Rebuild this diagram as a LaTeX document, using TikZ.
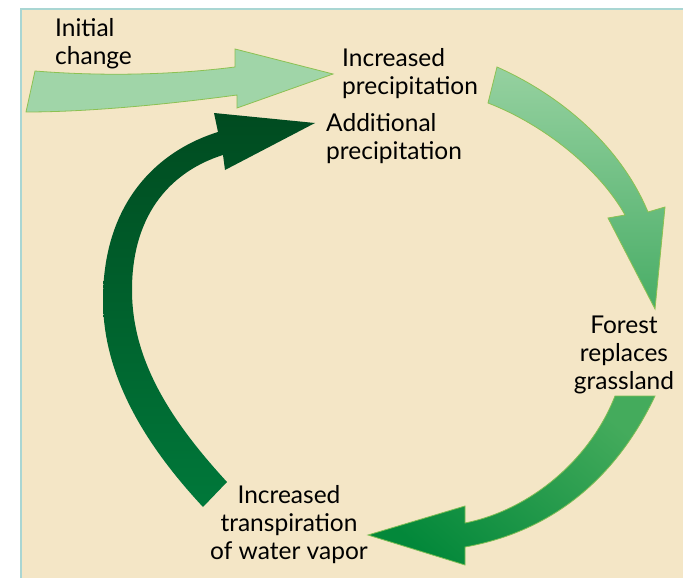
\documentclass[tikz,border=0pt]{standalone}
\usepackage{fontspec}
\setmainfont{Lato}
\usetikzlibrary{shapes.geometric}
\definecolor{bg}{HTML}{F4E6C6}
\definecolor{frameblue}{HTML}{A9D6D3}
\definecolor{aOneFill}{HTML}{A0D5A8}
\definecolor{aEdge}{HTML}{8CC152}
\definecolor{aTwoTop}{HTML}{96D1A0}
\definecolor{aTwoBot}{HTML}{48AD66}
\definecolor{aThreeTop}{HTML}{44AB5C}
\definecolor{aThreeBot}{HTML}{03883A}
\definecolor{aFourTop}{HTML}{004B20}
\definecolor{aFourBot}{HTML}{00783A}
\tikzset{
  lbl/.style={font=\fontsize{24.5}{28}\selectfont, text=black, inner sep=0pt},
  edgeline/.style={draw=aEdge, line width=0.8pt, line join=miter},
}
\begin{document}
\begin{tikzpicture}[x=1pt,y=-1pt]
\useasboundingbox (0,0) rectangle (683,578);
% background panel
\fill[bg] (20,8) rectangle (683,578);
\draw[frameblue, line width=2pt] (21,578) -- (21,9) -- (683,9);

% arrow 1: initial change
\path[edgeline, fill=aOneFill]
  (26,112) -- (35,71) .. controls (110,77) and (180,74) .. (235,67)
  -- (235,49) -- (333,74) -- (237,108) -- (237,95)
  .. controls (170,104) and (90,112) .. cycle;

% arrow 2: precipitation -> forest
\path[edgeline, top color=aTwoTop, bottom color=aTwoBot]
  (497,67) .. controls (560,95) and (620,145) .. (648,212)
  -- (665,207) -- (655,309) -- (608,218) -- (625,215)
  .. controls (600,170) and (545,125) .. (488,103) -- cycle;

% arrow 3: forest -> transpiration
\path[draw=aEdge!80!aThreeTop, line width=0.8pt, line join=miter,
      top color=aThreeTop, bottom color=aThreeBot, shading angle=-40]
  (655,396) .. controls (620,470) and (560,530) .. (465,547)
  -- (465,565) -- (368,535) -- (465,506) -- (465,523)
  .. controls (530,510) and (590,460) .. (615,396) -- cycle;

% arrow 4: transpiration -> additional precipitation
\path[top color=aFourTop, bottom color=aFourBot]
  (203,507) .. controls (150,450) and (103,380) .. (103,300)
  .. controls (103,200) and (160,150) .. (218,132)
  -- (214,113) -- (315,123) -- (225,170) -- (223,155)
  .. controls (175,170) and (132,210) .. (132,290)
  .. controls (132,360) and (170,420) .. (227,482) -- cycle;

% labels
\node[lbl, anchor=west, align=left] (init) at (55,44) {Initial\\change};
\node[lbl, anchor=west, align=left] (incp) at (342,74) {Increased\\precipitation};
\node[lbl, anchor=west, align=left] (addp) at (326,139) {Additional\\precipitation};
\node[lbl, align=center] (forest) at (624,355) {Forest\\replaces\\grassland};
\node[lbl, align=center] (trans) at (289,525) {Increased\\transpiration\\of water vapor};
\end{tikzpicture}
\end{document}
